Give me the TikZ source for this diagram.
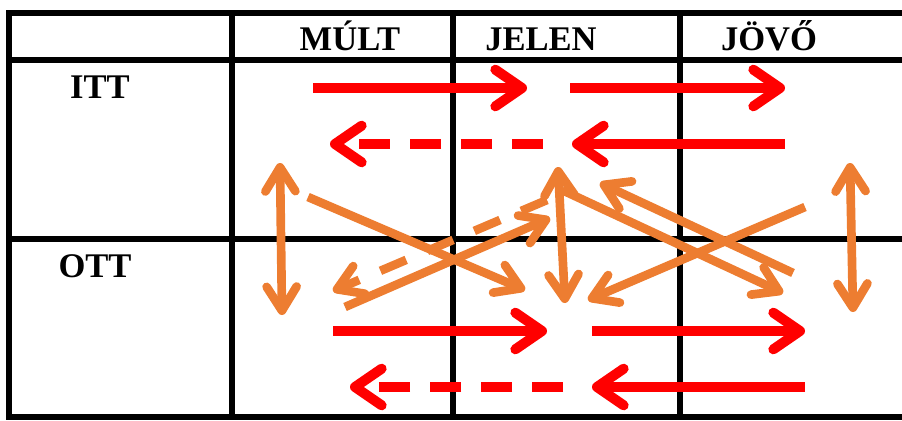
\documentclass[tikz,border=0pt]{standalone}
\usepackage{fontspec}
\setmainfont{Liberation Serif}
\usetikzlibrary{arrows.meta}
\definecolor{arrowRed}{RGB}{255,0,0}
\definecolor{arrowOrange}{RGB}{237,125,49}
\tikzstyle{gridline} = [line width = 0.18cm, draw = black]
\tikzstyle{heading} = [font = \fontsize{29.5}{34}\selectfont\bfseries, anchor = base, inner sep = 0pt]
\tikzstyle{redarrow} = [-{Straight Barb[length = 0.8cm, width = 1.1cm, round]}, line width = 0.3cm, draw = arrowRed]
\tikzstyle{orangearrow} = [-{Straight Barb[length = 0.72cm, width = 0.9cm, round]}, line width = 0.26cm, draw = arrowOrange]
\tikzstyle{orangedouble} = [orangearrow, {Straight Barb[length = 0.72cm, width = 0.9cm, round]}-{Straight Barb[length = 0.72cm, width = 0.9cm, round]}]
\tikzstyle{reddash} = [dash pattern = on 0.93cm off 0.6cm]
\tikzstyle{orangedash} = [dash pattern = on 0.84cm off 0.69cm]

\begin{document}
\begin{tikzpicture}[x = 0.03cm, y = -0.03cm]
\useasboundingbox (0,0) rectangle (902,420);

% table
\draw [gridline] (902,13) -- (9,13) -- (9,417) -- (902,417);
\draw [gridline] (9,60) -- (902,60);
\draw [gridline] (9,239) -- (902,239);
\foreach \x in {232,453,680} \draw [gridline] (\x,13) -- (\x,417);

\node (past) [heading] at (350,50) {MÚLT};
\node (present) [heading] at (541,50) {JELEN};
\node (future) [heading] at (769,50) {JÖVŐ};
\node (here) [heading] at (100,98) {ITT};
\node (there) [heading] at (95,277) {OTT};

% red arrows
\coordinate (hereA) at (313,88);   \coordinate (hereB) at (527,88);
\coordinate (hereC) at (570,88);   \coordinate (hereD) at (785,88);
\coordinate (hereE) at (785,144);  \coordinate (hereF) at (572,144);
\coordinate (hereG) at (543,144);  \coordinate (hereH) at (330,144);
\coordinate (thereA) at (333,331); \coordinate (thereB) at (547,331);
\coordinate (thereC) at (592,331); \coordinate (thereD) at (805,331);
\coordinate (thereE) at (805,387); \coordinate (thereF) at (592,387);
\coordinate (thereG) at (563,387); \coordinate (thereH) at (350,387);

\draw [redarrow] (hereA) -- (hereB);
\draw [redarrow] (hereC) -- (hereD);
\draw [redarrow] (hereE) -- (hereF);
\draw [redarrow, reddash] (hereG) -- (hereH);
\draw [redarrow] (thereA) -- (thereB);
\draw [redarrow] (thereC) -- (thereD);
\draw [redarrow] (thereE) -- (thereF);
\draw [redarrow, reddash] (thereG) -- (thereH);

% orange arrows
\coordinate (pastTop) at (280,163);    \coordinate (pastBot) at (282,315);
\coordinate (presTop) at (558,167);    \coordinate (presBot) at (565,303);
\coordinate (futTop) at (850,163);     \coordinate (futBot) at (853,312);
\coordinate (pastHere) at (308,197);   \coordinate (presThere) at (525,290);
\coordinate (pastThere) at (345,307);  \coordinate (presHere) at (550,218);
\coordinate (presDash) at (547,200);   \coordinate (pastDash) at (333,291);
\coordinate (presStart) at (562,190);  \coordinate (futThere) at (783,293);
\coordinate (futStart) at (793,273);   \coordinate (presEnd) at (600,183);
\coordinate (futHere) at (805,207);    \coordinate (presLow) at (588,300);

\draw [orangedouble] (pastTop) -- (pastBot);
\draw [orangedouble] (presTop) -- (presBot);
\draw [orangedouble] (futTop) -- (futBot);
\draw [orangearrow] (pastHere) -- (presThere);
\draw [orangearrow] (pastThere) -- (presHere);
\draw [orangearrow, orangedash] (presDash) -- (pastDash);
\draw [orangearrow] (presStart) -- (futThere);
\draw [orangearrow] (futStart) -- (presEnd);
\draw [orangearrow] (futHere) -- (presLow);
\end{tikzpicture}
\end{document}
